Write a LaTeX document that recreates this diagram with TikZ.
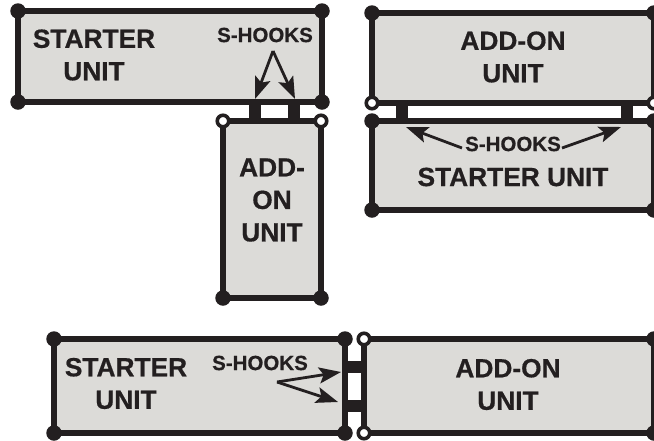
\documentclass[tikz,border=0pt]{standalone}
\usepackage{fontspec}
\setmainfont{Liberation Sans}[BoldFeatures={FakeBold=0.6}]
\usetikzlibrary{arrows.meta}
\definecolor{ink}{HTML}{231F20}
\definecolor{panel}{HTML}{DCDBD8}
\tikzset{
  unitbox/.style={draw=ink,fill=panel,line width=5.6pt,rectangle,inner sep=0pt,outer sep=0pt},
  hookbar/.style={fill=ink,rectangle,inner sep=0pt,outer sep=0pt},
  dotfull/.style={circle,fill=ink,inner sep=0pt,outer sep=0pt,minimum size=15.5pt},
  dotopen/.style={circle,draw=ink,fill=white,line width=3.6pt,inner sep=0pt,outer sep=0pt,minimum size=11.5pt},
  biglabel/.style={font=\fontsize{26.3}{32.5}\selectfont\bfseries,text=ink,align=center,inner sep=0pt},
  hooklabel/.style={font=\fontsize{20.5}{24}\selectfont\bfseries,text=ink,inner sep=0pt},
  pointer/.style={draw=ink,line width=2.8pt,-{Stealth[length=22pt,width=16pt,inset=4.5pt]},shorten >=0pt}
}
\begin{document}
\begin{tikzpicture}[x=1pt,y=-1pt]
\useasboundingbox (0,0) rectangle (654,440);
% hooks
\node[hookbar,minimum width=12pt,minimum height=20pt] (h1) at (255,112) {};
\node[hookbar,minimum width=12pt,minimum height=20pt] (h2) at (294,112) {};
\node[hookbar,minimum width=12pt,minimum height=20pt] (h3) at (402,112) {};
\node[hookbar,minimum width=12pt,minimum height=20pt] (h4) at (627,112) {};
\node[hookbar,minimum width=18pt,minimum height=12.5pt] (h5) at (352,367) {};
\node[hookbar,minimum width=20pt,minimum height=12.5pt] (h6) at (354,406) {};
% boxes
\node[unitbox,minimum width=304pt,minimum height=91pt] (a) at (170,56.5) {};
\node[unitbox,minimum width=98pt,minimum height=177pt] (b) at (272,209.5) {};
\node[unitbox,minimum width=282pt,minimum height=90pt] (c) at (513,58) {};
\node[unitbox,minimum width=282pt,minimum height=89pt] (d) at (513,165.5) {};
\node[unitbox,minimum width=291pt,minimum height=94pt] (e) at (199.5,386) {};
\node[unitbox,minimum width=290pt,minimum height=94pt] (f) at (509,386) {};
% corners
\foreach \p in {a.north west,a.north east,a.south west,a.south east,b.south west,b.south east,c.north west,c.north east,d.north west,d.north east,d.south west,d.south east,e.north west,e.north east,e.south west,e.south east,f.north east,f.south east}
  \node[dotfull] at (\p) {};
\foreach \p in {b.north west,b.north east,c.south west,c.south east,f.north west,f.south west}
  \node[dotopen] at (\p) {};
% labels
\node[biglabel] (t1) at (94,55) {STARTER\\UNIT};
\node[hooklabel] (t2) at (265,35) {S-HOOKS};
\node[biglabel] (t3) at (272,200) {ADD-\\ON\\UNIT};
\node[biglabel] (t4) at (513,57) {ADD-ON\\UNIT};
\node[hooklabel] (t5) at (513,144) {S-HOOKS};
\node[biglabel] (t6) at (513,177) {STARTER UNIT};
\node[biglabel] (t7) at (126,383.5) {STARTER\\UNIT};
\node[hooklabel] (t8) at (260,363) {S-HOOKS};
\node[biglabel] (t9) at (508,384.5) {ADD-ON\\UNIT};
% arrows
\coordinate (p1) at (273,51);
\coordinate (q1) at (255,99);
\coordinate (q2) at (295,99);
\coordinate (p2) at (462,148);
\coordinate (q3) at (406,127);
\coordinate (p3) at (562,148);
\coordinate (q4) at (621,127);
\coordinate (p4) at (277,382);
\coordinate (q5) at (341,372);
\coordinate (q6) at (338,402);
\draw[pointer] (p1) -- (q1);
\draw[pointer] (p1) -- (q2);
\draw[pointer] (p2) -- (q3);
\draw[pointer] (p3) -- (q4);
\draw[pointer] (p4) -- (q5);
\draw[pointer] (p4) -- (q6);
\end{tikzpicture}
\end{document}
